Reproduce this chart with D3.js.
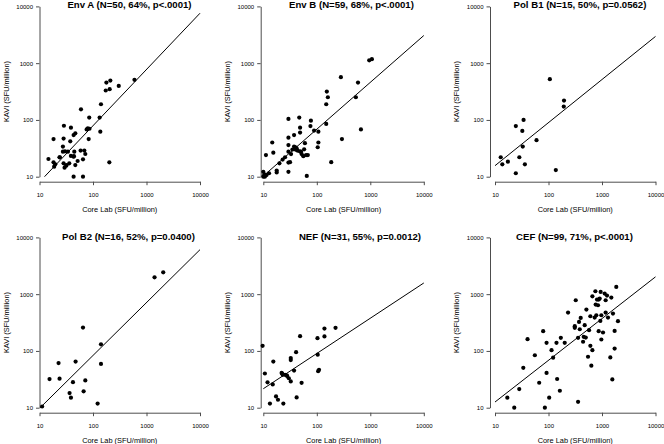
<!DOCTYPE html>
<html>
<head>
<meta charset="utf-8">
<script src="https://cdn.jsdelivr.net/npm/d3@7"></script>
<style>
  html, body { margin: 0; padding: 0; background: #ffffff; }
  svg { display: block; }
  text { font-family: "Liberation Sans", Arial, Helvetica, sans-serif; fill: #000; }
</style>
</head>
<body>
<script>
// ---------------- DATA ----------------
const panelTitles = [
  "Env A (N=50, 64%, p<.0001)",
  "Env B (N=59, 68%, p<.0001)",
  "Pol B1 (N=15, 50%, p=0.0562)",
  "Pol B2 (N=16, 52%, p=0.0400)",
  "NEF (N=31, 55%, p=0.0012)",
  "CEF (N=99, 71%, p<.0001)"
];
const tickValues = [10, 100, 1000, 10000];
const xAxisLabel = "Core Lab (SFU/million)";
const yAxisLabel = "KAVI (SFU/million)";

// Core Lab (x) and KAVI (y) values per antigen
const envA_core = [596,303,211,178,205,173,141,59.6,85,133,28.6,38.7,76,80,86,46.7,43.4,137,18.3,28.2,37.6,83,27.4,
  14.7,18.3,19.7,18.8,23.7,27.4,28.2,29.4,31.6,34,36,38.7,43.4,44.7,46.7,51.6,58.7,65,68.8,71.8,43.4,65,202,24,30,44,32];
const envA_kavi = [508,398,494,456,348,330,189,154,110,110,79,73,68,71,70,58,54,62,46,47,42,46,34,
  20.5,17.9,16.5,15,21.9,27.6,17.2,14.4,15.6,27.6,17.2,23.2,22.5,27.6,16,18.9,28.8,20.2,28.8,25.1,10,10,17.9,22,28,23,16];

const envB_core = [955,1071,282,589,154,161,150,537,150,668,295,186,65,29.5,47,77.6,76,48.7,89,107,37.6,48.7,29.5,107,104,
  14.7,15.4,11.2,29.5,37.6,42,43.4,50.8,60,58,52,56,63,68,29.5,29.5,31.6,29.5,25.5,23,20,17.8,17.8,12.8,11.5,10,10,10.7,
  40,35,48,40,33,10.5];
const envB_kavi = [1120,1175,566,456,316,251,189,251,85,68,46,18,10.3,104,110,97,78,73,65,62,54,60,48.7,40,33,
  40,26.5,24,36,34,31.6,28.8,27.6,39,30.4,25,23,24,24,27.6,17.7,18,12.2,22,20,17.2,12.8,11.9,11.5,10.7,12.2,10,10,
  33,30,28,30,25,11];

const polB1_core = [106,195,193,34.2,24.5,32.4,59.7,33,12.8,28.5,17.4,13.7,36.2,24.5,137];
const polB1_kavi = [522,219,172,100,78,64,44,34,22,22,18.4,16.5,16.5,11.5,13.1];

const polB2_core = [2054,1413,65,141,47.3,22.7,141,15.4,23.7,42.2,71.8,36.5,38.7,66.8,122,11.2];
const polB2_kavi = [2427,1982,258,131,65,61,59,31.9,32.4,28.2,30.2,18.1,15,19.4,11.8,10.5];

const nef_core = [9.7,48.7,103,139,139,224,41,32.6,32.6,15.4,104,110,106,10.7,37.6,22,23,25.5,27.4,30,32.6,12,15,52,17.3,18.8,42,13.3,23.7,22.5,28];
const nef_kavi = [123,182,168,180,248,255,95,75,69,65,86,46.6,44,40,45,41,38,38,37,33,29,28,25.7,27.4,15.8,13.8,15.2,11.8,11.8,40,36];

const cef_core = [1849,752,944,1122,1240,661,906,1493,1170,807,867,323,762,842,511,232,1603,783,972,1170,606,400,1294,729,
  372,931,1987,310,310,384,475,573,867,1045,1722,79.5,455,357,170,201,141,92,972,40.6,443,606,661,114,55.6,122,548,1722,
  1430,632,33.8,92,145,67,28.4,163,17,103,357,22.9,85.5,1560,497];
const cef_kavi = [1340,1125,1094,1023,944,918,836,870,781,802,802,781,655,638,535,474,455,425,425,474,408,382,387,387,
  325,338,334,273,255,241,284,232,223,211,225,223,177,170,170,139,139,139,159,161,145,123,103,103,84,76,79,110,
  77,55,50.5,41,32,27.5,21.3,19.9,15,15,12.7,10,10,31.5,172];

// regression fits: log10(KAVI) at Core Lab = 10, and slope in log-log space
const fitIntercepts = [0.907, 1.012, 1.194, 0.988, 1.334, 1.100];
const fitSlopes     = [0.991, 0.825, 0.759, 0.932, 0.621, 0.735];

const seriesCore = [envA_core, envB_core, polB1_core, polB2_core, nef_core, cef_core];
const seriesKavi = [envA_kavi, envB_kavi, polB1_kavi, polB2_kavi, nef_kavi, cef_kavi];

// ---------------- LAYOUT ----------------
const W = 664, H = 444;
const layout = [
  { x0: 39.5,  y10: 176.7, off: 0,   tx: 129.5, ty: 5   },
  { x0: 263.3, y10: 176.7, off: 2.6, tx: 351.5, ty: 5   },
  { x0: 495,   y10: 176.7, off: 5,   tx: 580,   ty: 5   },
  { x0: 39.5,  y10: 407.7, off: 0,   tx: 128.5, ty: 237 },
  { x0: 263.3, y10: 407.7, off: 2.6, tx: 360,   ty: 237 },
  { x0: 495,   y10: 407.7, off: 5,   tx: 574.5, ty: 237 }
];
const plotW = 160.5, plotH = 170.3;
const axisColor = "#4d4d4d";

const svg = d3.select("body").append("svg")
  .attr("width", W).attr("height", H)
  .attr("viewBox", `0 0 ${W} ${H}`);

svg.append("rect").attr("width", W).attr("height", H).attr("fill", "#fff");

layout.forEach((L, i) => {
  const x = d3.scaleLog().domain([10, 10000]).range([L.x0, L.x0 + plotW]);
  const y = d3.scaleLog().domain([10, 10000]).range([L.y10, L.y10 - plotH]);
  const g = svg.append("g");

  const axX = L.y10 + 5;
  const axY = L.x0 - L.off;

  // y axis
  const gy = g.append("g")
    .attr("transform", `translate(${axY},0)`)
    .call(d3.axisLeft(y).tickValues(tickValues).tickFormat(d3.format("d"))
      .tickSize(3.5).tickSizeOuter(0).tickPadding(3));
  // x axis
  const gx = g.append("g")
    .attr("transform", `translate(0,${axX})`)
    .call(d3.axisBottom(x).tickValues(tickValues).tickFormat(d3.format("d"))
      .tickSize(3.5).tickSizeOuter(0).tickPadding(7.5));

  [gy, gx].forEach(a => {
    a.select(".domain").attr("stroke", axisColor).attr("stroke-width", 1);
    a.selectAll(".tick line").attr("stroke", axisColor).attr("stroke-width", 1);
    a.selectAll(".tick text")
      .attr("font-size", 6)
      .attr("font-family", "'Liberation Sans', Arial, Helvetica, sans-serif")
      .attr("fill", "#000");
  });

  // axis titles
  g.append("text")
    .attr("x", (x(10) + x(10000)) / 2)
    .attr("y", L.y10 + 35.6)
    .attr("text-anchor", "middle")
    .attr("font-size", 7.4)
    .text(xAxisLabel);

  const ycen = (y(10) + y(10000)) / 2;
  g.append("text")
    .attr("transform", `translate(${axY - 31},${ycen}) rotate(-90)`)
    .attr("text-anchor", "middle")
    .attr("font-size", 7.4)
    .text(yAxisLabel);

  // title
  g.append("text")
    .attr("x", L.tx)
    .attr("y", L.ty + 3.4)
    .attr("text-anchor", "middle")
    .attr("font-size", 9.6)
    .attr("font-weight", "bold")
    .text(panelTitles[i]);

  // regression line (clipped to 10..10000 box in log space)
  const a = fitIntercepts[i], b = fitSlopes[i];
  let lx0 = 1, lx1 = 4;
  const ly = lx => a + b * (lx - 1);
  if (ly(lx0) < 1) lx0 = 1 + (1 - a) / b;
  if (ly(lx1) > 4) lx1 = 1 + (4 - a) / b;
  g.append("line")
    .attr("x1", x(Math.pow(10, lx0))).attr("y1", y(Math.pow(10, ly(lx0))))
    .attr("x2", x(Math.pow(10, lx1))).attr("y2", y(Math.pow(10, ly(lx1))))
    .attr("stroke", "#000").attr("stroke-width", 1);

  // points
  const pts = seriesCore[i].map((c, k) => [c, seriesKavi[i][k]]);
  g.append("g").selectAll("circle").data(pts).join("circle")
    .attr("cx", d => x(d[0]))
    .attr("cy", d => y(d[1]))
    .attr("r", 2.1)
    .attr("fill", "#000");
});
</script>
</body>
</html>
